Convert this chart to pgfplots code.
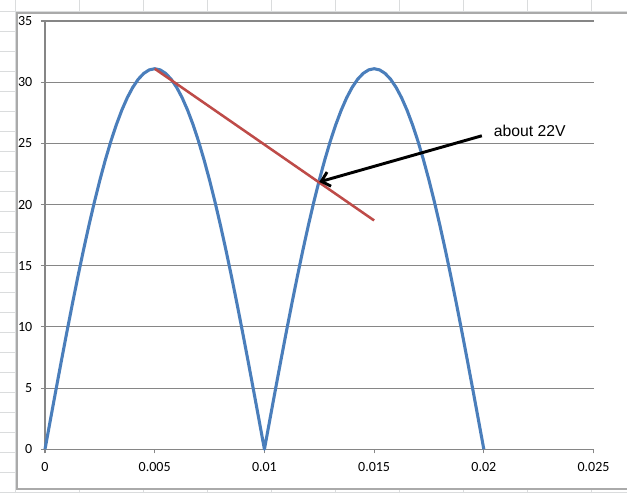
\documentclass[border=0pt]{standalone}
\usepackage{fontspec}
\setmainfont{Liberation Sans}
\newfontfamily\tickfont{Carlito}
\usepackage{pgfplots}
\pgfplotsset{compat=1.18}
\usetikzlibrary{arrows.meta}

\definecolor{xlblue}{HTML}{4A7EBB}
\definecolor{xlred}{HTML}{BE4B48}
\definecolor{xlgray}{HTML}{868686}
\definecolor{cellgray}{HTML}{DADCDD}

\begin{document}
\begin{tikzpicture}
% page = 627 x 493 px, 1 px = 0.75pt, y measured upward
\useasboundingbox (0pt,0pt) rectangle (470.25pt,369.75pt);
\fill[white] (0pt,0pt) rectangle (470.25pt,369.75pt);
% spreadsheet cells behind the chart
\foreach \yy in {1,21,...,481} \draw[cellgray,line width=0.75pt] (0pt,0.75*\yy pt) -- (470.25pt,0.75*\yy pt);
\foreach \xx in {15,79,...,591} \draw[cellgray,line width=0.75pt] (0.75*\xx pt,0pt) -- (0.75*\xx pt,369.75pt);
% chart area
\filldraw[fill=white,draw=xlgray!70,line width=0.9pt] (12.75pt,3pt) rectangle (480pt,360pt);

\begin{axis}[
  at={(33.75pt,32.8pt)}, anchor=south west,
  scale only axis,
  width=411.4pt, height=321.2pt,
  xmin=0, xmax=0.025,
  ymin=0, ymax=35,
  scaled x ticks=false,
  xtick={0,0.005,0.01,0.015,0.02,0.025},
  xticklabels={0,0.005,0.01,0.015,0.02,0.025},
  ytick={0,5,10,15,20,25,30,35},
  axis lines*=left,
  axis line style={draw=xlgray,line width=0.8pt},
  tick align=outside,
  major tick length=3pt,
  tick style={draw=xlgray,line width=0.8pt},
  ymajorgrids,
  grid style={draw=xlgray,line width=0.8pt},
  tick label style={font=\tickfont\fontsize{10.5}{12}\selectfont},
  /pgf/number format/assume math mode=true,
  yticklabel style={xshift=-3pt},
  xticklabel style={yshift=-3.5pt},
  clip=false,
]
\addplot[xlblue,line width=2.3pt,line join=round] coordinates {
  (0,0) (0.00025,2.440) (0.0005,4.865) (0.00075,7.260) (0.001,9.611)
  (0.00125,11.901) (0.0015,14.119) (0.00175,16.250) (0.002,18.280) (0.00225,20.198)
  (0.0025,21.991) (0.00275,23.649) (0.003,25.160) (0.00325,26.517) (0.0035,27.710)
  (0.00375,28.733) (0.004,29.578) (0.00425,30.241) (0.0045,30.717) (0.00475,31.004)
  (0.005,31.1)
  (0.00525,31.004) (0.0055,30.717) (0.00575,30.241) (0.006,29.578) (0.00625,28.733)
  (0.0065,27.710) (0.00675,26.517) (0.007,25.160) (0.00725,23.649) (0.0075,21.991)
  (0.00775,20.198) (0.008,18.280) (0.00825,16.250) (0.0085,14.119) (0.00875,11.901)
  (0.009,9.611) (0.00925,7.260) (0.0095,4.865) (0.00975,2.440) (0.01,0)
  (0.01025,2.440) (0.0105,4.865) (0.01075,7.260) (0.011,9.611)
  (0.01125,11.901) (0.0115,14.119) (0.01175,16.250) (0.012,18.280) (0.01225,20.198)
  (0.0125,21.991) (0.01275,23.649) (0.013,25.160) (0.01325,26.517) (0.0135,27.710)
  (0.01375,28.733) (0.014,29.578) (0.01425,30.241) (0.0145,30.717) (0.01475,31.004)
  (0.015,31.1)
  (0.01525,31.004) (0.0155,30.717) (0.01575,30.241) (0.016,29.578) (0.01625,28.733)
  (0.0165,27.710) (0.01675,26.517) (0.017,25.160) (0.01725,23.649) (0.0175,21.991)
  (0.01775,20.198) (0.018,18.280) (0.01825,16.250) (0.0185,14.119) (0.01875,11.901)
  (0.019,9.611) (0.01925,7.260) (0.0195,4.865) (0.01975,2.440) (0.02,0)
};
\addplot[xlred,line width=1.9pt] coordinates {(0.005,31.1) (0.015,18.7)};

\draw[black,line width=2.2pt,-{Straight Barb[length=6pt,width=11pt]}]
  (axis cs:0.01991,25.62) -- (axis cs:0.01250,21.85);
\node[anchor=west,inner sep=0pt,font=\fontsize{11.8}{14}\selectfont]
  at (axis cs:0.02045,26.03) {about 22V};
\end{axis}
\end{tikzpicture}
\end{document}
